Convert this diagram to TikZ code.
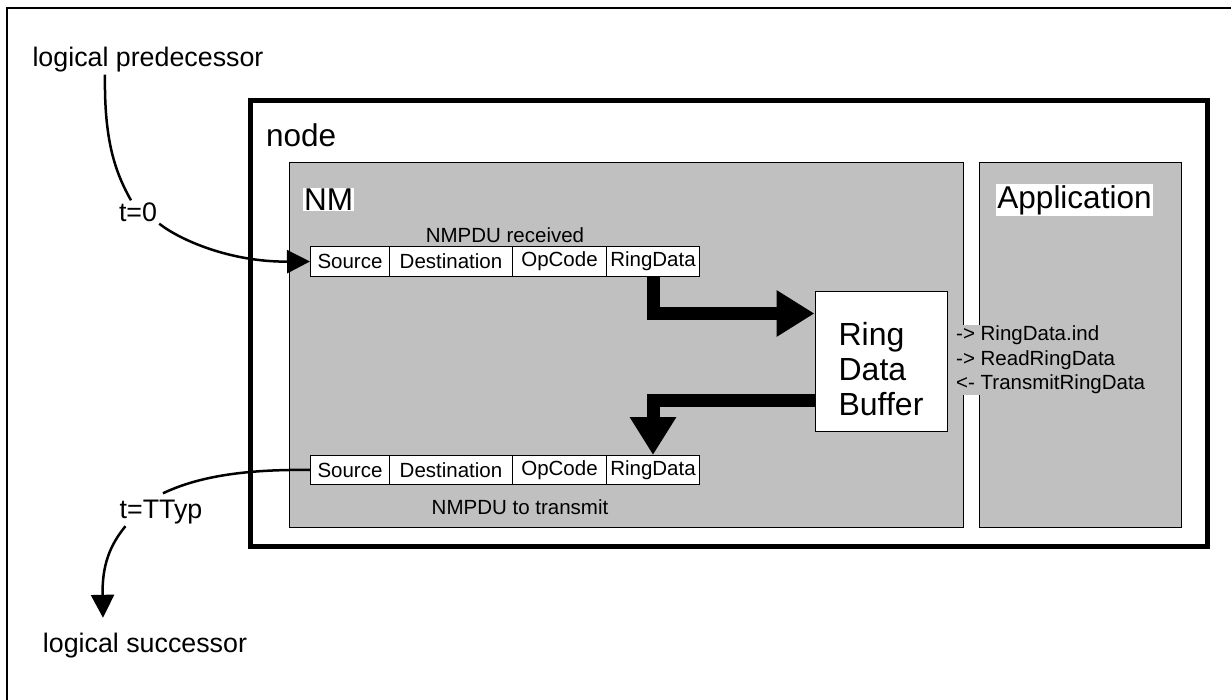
\documentclass[tikz,border=0pt]{standalone}
\usepackage{fontspec}
\setmainfont{Liberation Sans}
\usetikzlibrary{arrows.meta}
\definecolor{boxgray}{HTML}{C0C0C0}
\tikzset{
  lbl/.style={inner sep=2pt, font=\fontsize{26.8}{30}\selectfont},
  big/.style={inner sep=1pt, font=\fontsize{31.5}{36}\selectfont},
  small/.style={inner sep=1pt, font=\fontsize{20.5}{24}\selectfont},
  field/.style={draw, fill=white, line width=1pt, inner sep=0pt, minimum height=30pt, font=\fontsize{20.5}{24}\selectfont},
  bar/.style={line width=13pt, -{Triangle[length=38pt,width=44pt]}},
  flow/.style={line width=2.5pt, -{Triangle[length=23pt,width=23pt]}},
}
\begin{document}
\begin{tikzpicture}[x=1pt,y=-1pt]
        \useasboundingbox (0,0) rectangle (1231,700);
        \draw[line width=2pt] (7,8.5) rectangle (1240,710);
        \draw[line width=5pt] (250.5,100.5) rectangle (1207,546);
        \node[big, anchor=west] (nodelbl) at (265,135) {node};
        \draw[fill=boxgray, line width=1pt] (289,163) rectangle (963,527);
        \draw[fill=boxgray, line width=1pt] (979,163) rectangle (1181,527);
        \node[big, fill=white] (nm) at (328.5,199.5) {NM};
        \node[big, fill=white] (app) at (1074.5,200) {Application};
        % received frame
        \node[small] (rcv) at (505,235) {NMPDU received};
        \node[field, minimum width=79pt, anchor=north west] (srcA) at (310,246) {Source};
        \node[field, minimum width=123pt, anchor=north west] (dstA) at (389,246) {Destination};
        \node[field, minimum width=94pt, anchor=north west] (opA) at (512,246) {OpCode};
        \node[field, minimum width=93pt, anchor=north west] (rdA) at (606,246) {RingData};
        % frame to transmit
        \node[field, minimum height=29pt, minimum width=79pt, anchor=north west] (srcB) at (310,455) {Source};
        \node[field, minimum height=29pt, minimum width=123pt, anchor=north west] (dstB) at (389,455) {Destination};
        \node[field, minimum height=29pt, minimum width=94pt, anchor=north west] (opB) at (512,455) {OpCode};
        \node[field, minimum height=29pt, minimum width=93pt, anchor=north west] (rdB) at (606,455) {RingData};
        \node[small] (tx) at (520,507) {NMPDU to transmit};
        \node[small, fill=boxgray, anchor=west, align=left, inner xsep=8pt, font=\fontsize{20.5}{24.5}\selectfont] (api) at (948,360) {-> RingData.ind\\-> ReadRingData\\<- TransmitRingData};
        \node[draw, fill=white, line width=1pt, minimum width=132pt, minimum height=139pt] (buf) at (881,361.5) {};
        \node[align=left, inner sep=0pt, font=\fontsize{32}{35}\selectfont] (buftxt) at ([yshift=-8pt]buf.center) {Ring\\Data\\Buffer};
        \draw[bar] (rdA.south) |- ([yshift=-22pt]buf.north west);
        \draw[bar] ([yshift=31pt]buf.south west) -| (rdB.north);
        % ring neighbours
        \node[lbl] (pred) at (148,60) {logical predecessor};
        \node[lbl] (t0) at (138,212) {t=0};
        \draw[line width=2.5pt] ([xshift=-43pt]pred.south) .. controls (104,140) and (115,172) .. ([xshift=-7pt]t0.north);
        \draw[flow] (t0.south east) .. controls (180,240) and (230,262) .. (srcA.west);
        \node[lbl] (ttyp) at (161,512) {t=TTyp};
        \node[lbl] (succ) at (145,646) {logical successor};
        \draw[line width=2.5pt] (srcB.west) .. controls (240,469) and (195,478) .. ([xshift=2pt,yshift=4.5pt]ttyp.north);
        \draw[flow] ([xshift=8pt]ttyp.south west) .. controls (110,545) and (102,565) .. ([xshift=-42pt,yshift=13.5pt]succ.north);
\end{tikzpicture}
\end{document}
